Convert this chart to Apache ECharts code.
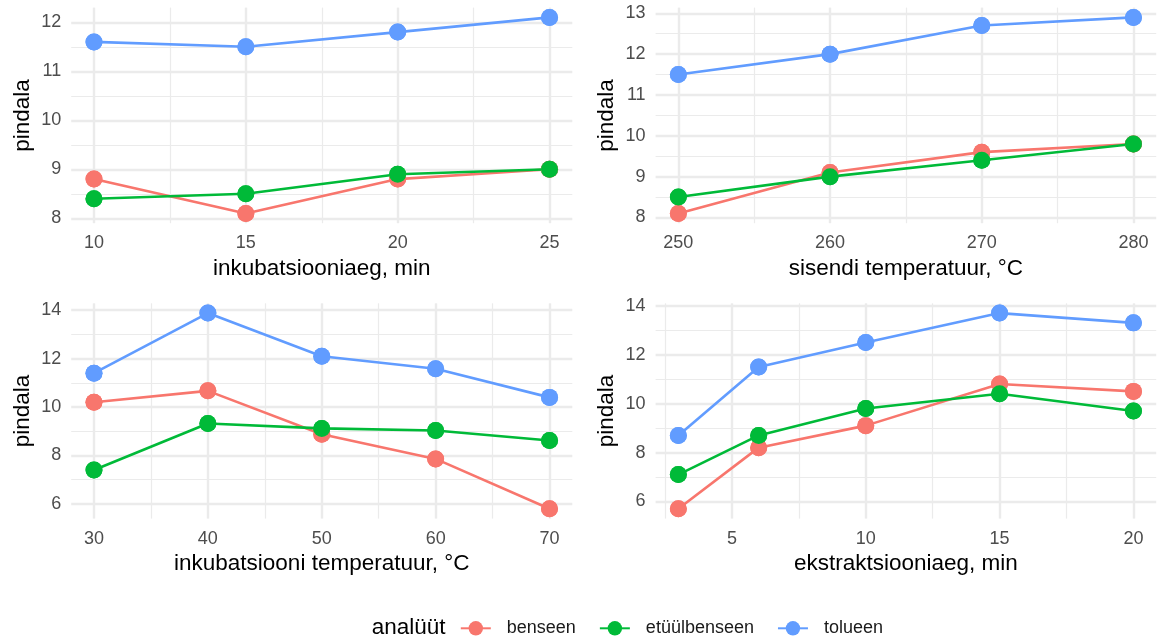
<!DOCTYPE html>
<html>
<head>
<meta charset="utf-8">
<script src="https://cdn.jsdelivr.net/npm/echarts@6/dist/echarts.min.js"></script>
<style>html,body{margin:0;padding:0;background:#fff}#c{width:1157px;height:639px}</style>
</head>
<body>
<div id="c"></div>
<script>
// ---------- data ----------
const analytes = ['benseen', 'etüülbenseen', 'tolueen'];
const legendTitle = 'analüüt';
const yTitle = 'pindala';
const xTitles = ['inkubatsiooniaeg, min', 'sisendi temperatuur, °C', 'inkubatsiooni temperatuur, °C', 'ekstraktsiooniaeg, min'];

// panel 1: inkubatsiooniaeg
const x1 = [10, 15, 20, 25];
const p1Benseen = [8.8, 8.1, 8.8, 9.0];
const p1Etyyl = [8.4, 8.5, 8.9, 9.0];
const p1Tolueen = [11.6, 11.5, 11.8, 12.1];

// panel 2: sisendi temperatuur
const x2 = [250, 260, 270, 280];
const p2Benseen = [8.1, 9.1, 9.6, 9.8];
const p2Etyyl = [8.5, 9.0, 9.4, 9.8];
const p2Tolueen = [11.5, 12.0, 12.7, 12.9];

// panel 3: inkubatsiooni temperatuur
const x3 = [30, 40, 50, 60, 70];
const p3Benseen = [10.2, 10.67, 8.88, 7.86, 5.8];
const p3Etyyl = [7.4, 9.32, 9.12, 9.03, 8.62];
const p3Tolueen = [11.4, 13.88, 12.1, 11.58, 10.4];

// panel 4: ekstraktsiooniaeg
const x4 = [3, 6, 10, 15, 20];
const p4Benseen = [5.7, 8.2, 9.1, 10.8, 10.5];
const p4Etyyl = [7.1, 8.7, 9.8, 10.4, 9.7];
const p4Tolueen = [8.7, 11.5, 12.5, 13.7, 13.3];

// tick labels (major) and minor grid positions
const xTicks1 = [10, 15, 20, 25], xMinor1 = [12.5, 17.5, 22.5];
const yTicks1 = [8, 9, 10, 11, 12], yMinor1 = [8.5, 9.5, 10.5, 11.5];
const xTicks2 = [250, 260, 270, 280], xMinor2 = [255, 265, 275];
const yTicks2 = [8, 9, 10, 11, 12, 13], yMinor2 = [8.5, 9.5, 10.5, 11.5, 12.5];
const xTicks3 = [30, 40, 50, 60, 70], xMinor3 = [35, 45, 55, 65];
const yTicks3 = [6, 8, 10, 12, 14], yMinor3 = [7, 9, 11, 13];
const xTicks4 = [5, 10, 15, 20], xMinor4 = [2.5, 7.5, 12.5, 17.5];
const yTicks4 = [6, 8, 10, 12, 14], yMinor4 = [7, 9, 11, 13];

// ---------- styling ----------
const colors = ['#F8766D', '#00BA38', '#619CFF'];
const FONT = '"Liberation Sans", Arial, Helvetica, sans-serif';
const GRID_COL = '#EBEBEB';

const panels = [
  {x: x1, ys: [p1Benseen, p1Etyyl, p1Tolueen], xt: xTicks1, xm: xMinor1, yt: yTicks1, ym: yMinor1,
   rect: {left: 71.2, top: 7.6, width: 501.1, height: 215.6}},
  {x: x2, ys: [p2Benseen, p2Etyyl, p2Tolueen], xt: xTicks2, xm: xMinor2, yt: yTicks2, ym: yMinor2,
   rect: {left: 655.6, top: 7.6, width: 500.6, height: 215.6}},
  {x: x3, ys: [p3Benseen, p3Etyyl, p3Tolueen], xt: xTicks3, xm: xMinor3, yt: yTicks3, ym: yMinor3,
   rect: {left: 71.2, top: 303.3, width: 501.1, height: 215.3}},
  {x: x4, ys: [p4Benseen, p4Etyyl, p4Tolueen], xt: xTicks4, xm: xMinor4, yt: yTicks4, ym: yMinor4,
   rect: {left: 655.6, top: 303.3, width: 500.6, height: 215.3}}
];

function expand(vals) {
  const mn = Math.min.apply(null, vals), mx = Math.max.apply(null, vals);
  const d = (mx - mn) * 0.05;
  return [mn - d, mx + d];
}

const grids = [], xAxes = [], yAxes = [], series = [];
panels.forEach((p, i) => {
  grids.push(Object.assign({containLabel: false, outerBoundsMode: 'none'}, p.rect));
  const xr = expand(p.x);
  const yr = expand([].concat(...p.ys));
  // major x
  xAxes.push({
    type: 'value', gridIndex: i, min: xr[0], max: xr[1],
    axisLine: {show: false}, axisTick: {show: false, customValues: p.xt},
    axisLabel: {customValues: p.xt, color: '#4D4D4D', fontSize: 18, margin: 11, fontFamily: FONT},
    splitLine: {show: true, lineStyle: {color: GRID_COL, width: 2.4}},
    name: xTitles[i], nameLocation: 'middle', nameGap: 34,
    nameTextStyle: {color: '#000', fontSize: 22.5, fontFamily: FONT}
  });
  // minor x
  xAxes.push({
    type: 'value', gridIndex: i, min: xr[0], max: xr[1],
    axisLine: {show: false}, axisTick: {show: false, customValues: p.xm},
    axisLabel: {show: false},
    splitLine: {show: true, lineStyle: {color: GRID_COL, width: 1.2}}
  });
  // major y
  yAxes.push({
    type: 'value', gridIndex: i, min: yr[0], max: yr[1],
    axisLine: {show: false}, axisTick: {show: false, customValues: p.yt},
    axisLabel: {customValues: p.yt, color: '#4D4D4D', fontSize: 18, margin: 10, fontFamily: FONT},
    splitLine: {show: true, lineStyle: {color: GRID_COL, width: 2.4}},
    name: yTitle, nameLocation: 'middle', nameGap: 37,
    nameTextStyle: {color: '#000', fontSize: 22.5, fontFamily: FONT}
  });
  // minor y
  yAxes.push({
    type: 'value', gridIndex: i, min: yr[0], max: yr[1],
    axisLine: {show: false}, axisTick: {show: false, customValues: p.ym},
    axisLabel: {show: false},
    splitLine: {show: true, lineStyle: {color: GRID_COL, width: 1.2}}
  });
  p.ys.forEach((vals, k) => {
    const data = p.x.map((xv, j) => [xv, vals[j]]);
    series.push({
      type: 'line', name: analytes[k], xAxisIndex: 2 * i, yAxisIndex: 2 * i,
      data: data, symbol: 'circle', symbolSize: 17, showSymbol: true,
      itemStyle: {color: colors[k]}, lineStyle: {color: colors[k], width: 2.6},
      z: 2, emphasis: {disabled: true}, silent: true
    });
  });
  p.ys.forEach((vals, k) => {
    const data = p.x.map((xv, j) => [xv, vals[j]]);
    series.push({
      type: 'scatter', name: analytes[k], xAxisIndex: 2 * i, yAxisIndex: 2 * i,
      data: data, symbol: 'circle', symbolSize: 17,
      itemStyle: {color: colors[k], opacity: 1}, z: 3, emphasis: {disabled: true}, silent: true
    });
  });
});

const chart = echarts.init(document.getElementById('c'), null, {renderer: 'canvas'});
chart.setOption({
  animation: false,
  backgroundColor: '#fff',
  title: {
    text: legendTitle, left: 371.7, top: 616.5, padding: 0,
    textStyle: {color: '#000', fontSize: 22.5, fontWeight: 'normal', fontFamily: FONT}
  },
  legend: {
    data: analytes, left: 459.8, top: 619.3, padding: 0, orient: 'horizontal',
    itemWidth: 30, itemHeight: 18, itemGap: 23, selectedMode: false,
    textStyle: {color: '#1A1A1A', fontSize: 18, fontFamily: FONT, padding: [0, 0, 0, 11]}
  },
  grid: grids,
  xAxis: xAxes,
  yAxis: yAxes,
  series: series
});
</script>
</body>
</html>
